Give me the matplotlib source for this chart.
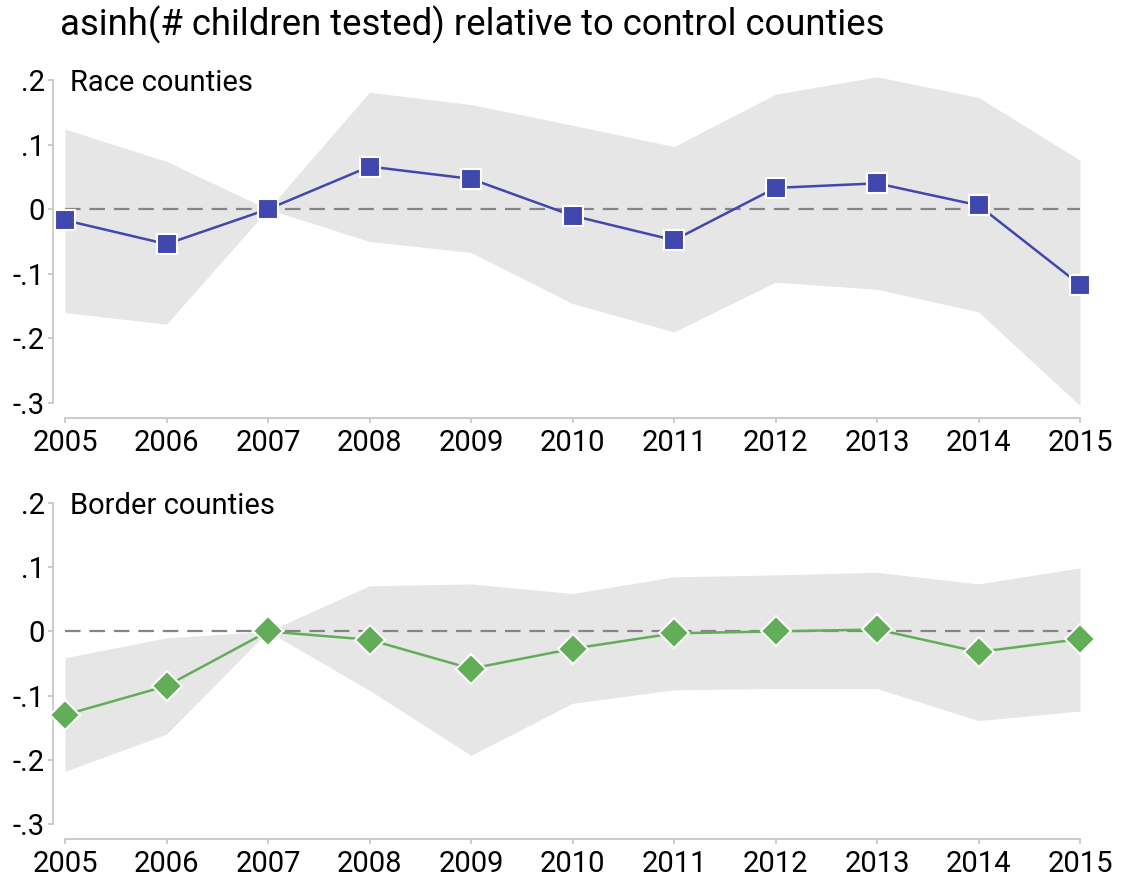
import matplotlib
matplotlib.use("Agg")
import matplotlib.pyplot as plt

plt.rcParams['font.family'] = ['Roboto', 'DejaVu Sans']

years = [2005, 2006, 2007, 2008, 2009, 2010, 2011, 2012, 2013, 2014, 2015]

# Race counties
race_est = [-0.017, -0.054, 0.0, 0.066, 0.047, -0.010, -0.048, 0.033, 0.040, 0.006, -0.117]
race_hi = [0.124, 0.074, 0.0, 0.181, 0.162, 0.130, 0.097, 0.178, 0.205, 0.173, 0.076]
race_lo = [-0.160, -0.178, 0.0, -0.050, -0.067, -0.146, -0.190, -0.113, -0.124, -0.159, -0.304]

# Border counties
border_est = [-0.130, -0.085, 0.0, -0.013, -0.058, -0.027, -0.003, 0.000, 0.003, -0.032, -0.012]
border_hi = [-0.041, -0.010, 0.0, 0.071, 0.074, 0.059, 0.085, 0.088, 0.092, 0.074, 0.099]
border_lo = [-0.218, -0.160, 0.0, -0.092, -0.193, -0.112, -0.091, -0.089, -0.089, -0.139, -0.124]

yticks = [0.2, 0.1, 0.0, -0.1, -0.2, -0.3]
ytick_labels = ['.2', '.1', '0', '-.1', '-.2', '-.3']

W, H = 1124, 882
fig = plt.figure(figsize=(W / 100, H / 100), dpi=100)

fig.text(60 / W, 1 - 25 / H, 'asinh(# children tested) relative to control counties',
         fontsize=26.3, va='center', ha='left')

spine_col = '#c4c4c4'


def panel(rect, est, lo, hi, color, marker, msize, label):
    ax = fig.add_axes(rect)
    ax.fill_between(years, lo, hi, color='#e6e6e6', lw=0, clip_on=False, zorder=1)
    ax.axhline(0, color='#858585', lw=1.6, dashes=(7, 4), zorder=2)
    ax.plot(years, est, color=color, lw=1.8, marker=marker, markersize=msize,
            markerfacecolor=color, markeredgecolor='white', markeredgewidth=1.5,
            clip_on=False, zorder=3)
    ax.set_xlim(2005, 2015)
    ax.set_ylim(-0.3, 0.2)
    ax.set_xticks(years)
    ax.set_xticklabels([str(y) for y in years])
    ax.set_yticks(yticks)
    ax.set_yticklabels(ytick_labels)
    for s in ['top', 'right']:
        ax.spines[s].set_visible(False)
    ax.spines['left'].set_position(('outward', 9))
    ax.spines['bottom'].set_position(('outward', 11))
    for s in ['left', 'bottom']:
        ax.spines[s].set_color(spine_col)
        ax.spines[s].set_linewidth(1.2)
    ax.tick_params(axis='both', colors=spine_col, labelcolor='black', labelsize=21,
                   length=3.6, width=1.2)
    ax.tick_params(axis='x', pad=4)
    ax.tick_params(axis='y', pad=2)
    ax.patch.set_visible(False)
    ax.text(2005.05, 0.195, label, fontsize=21, va='center', ha='left')
    return ax


panel([65 / W, 1 - 403 / H, 1015 / W, 323 / H], race_est, race_lo, race_hi,
      '#4148ad', 's', 14.5, 'Race counties')
panel([65 / W, 1 - 824 / H, 1015 / W, 321 / H], border_est, border_lo, border_hi,
      '#62ad58', 'D', 15, 'Border counties')

fig.savefig('out.png', dpi=100)
